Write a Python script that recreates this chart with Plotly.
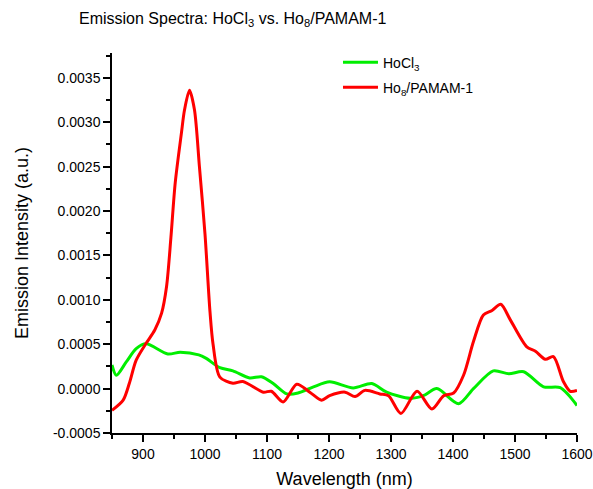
import plotly.graph_objects as go

# Wavelength (nm) and intensities (a.u.)
hocl3_wl = [850, 857, 873, 889, 905, 940, 960, 990, 1002, 1024, 1045, 1072, 1091, 1110,
            1132, 1150, 1175, 1201, 1239, 1269, 1293, 1331, 1352, 1374, 1409, 1433,
            1465, 1490, 1514, 1546, 1573, 1600]
hocl3_int = [0.000266, 0.00015, 0.0003, 0.00045, 0.000504, 0.00039, 0.00041, 0.00038,
             0.00034, 0.000235, 0.0002, 0.00012, 0.000133, 0.000057, -0.00006, -0.00005,
             0.00002, 0.000076, 0.000008, 0.000057, -0.00004, -0.00011, -0.00008, 0.0,
             -0.00017, 0.0, 0.0002, 0.000167, 0.00019, 0.00002, 0.00001, -0.00019]

ho8_wl = [850, 868, 878, 889, 905, 919, 930, 938, 945, 952, 962, 967, 975, 983, 991, 1000,
          1008, 1013, 1024, 1045, 1061, 1094, 1107, 1126, 1148, 1169, 1188, 1201, 1226,
          1242, 1258, 1282, 1296, 1316, 1342, 1366, 1385, 1401, 1417, 1433, 1449, 1463,
          1477, 1492, 1519, 1533, 1549, 1562, 1578, 1589, 1600]
ho8_int = [-0.000245, -0.00013, 0.00006, 0.00032, 0.00051, 0.00066, 0.00085, 0.00115,
           0.0017, 0.00232, 0.00288, 0.00314, 0.00336, 0.00314, 0.0025, 0.00174, 0.00087,
           0.0005, 0.00013, 0.00006, 0.00008, -0.00004, -0.00003, -0.00015, 0.00005,
           -0.00004, -0.00013, -0.00008, -0.00004, -0.00009, -0.00002, -0.00006, -0.00008,
           -0.00028, -0.00003, -0.00023, -0.00008, -0.00005, 0.00015, 0.00053, 0.00083,
           0.00088, 0.00095, 0.00078, 0.00047, 0.00042, 0.00033, 0.00036, 0.00008,
           -0.00003, -0.00002]

y_tickvals = [-0.0005, 0.0, 0.0005, 0.0010, 0.0015, 0.0020, 0.0025, 0.0030, 0.0035]
y_ticktext = ["-0.0005", "0.0000", "0.0005", "0.0010", "0.0015", "0.0020", "0.0025",
              "0.0030", "0.0035"]

FONT = "Liberation Sans, Arial, sans-serif"

fig = go.Figure()
fig.add_trace(go.Scatter(x=hocl3_wl, y=hocl3_int, mode="lines", name="HoCl<sub>3</sub>",
                         line=dict(color="#00ee00", width=3, shape="spline", smoothing=0.8),
                         legendgroup="a"))
fig.add_trace(go.Scatter(x=ho8_wl, y=ho8_int, mode="lines", name="Ho<sub>8</sub>/PAMAM-1",
                         line=dict(color="#ff0000", width=3, shape="spline", smoothing=0.8),
                         legendgroup="b"))

axis_common = dict(showline=True, linecolor="black", linewidth=1.5, ticks="outside",
                   ticklen=7, tickwidth=1.5, tickcolor="black", showgrid=False,
                   zeroline=False, mirror=False, automargin=False,
                   tickfont=dict(family=FONT, size=14, color="black"))

fig.update_xaxes(range=[850, 1600], tick0=900, dtick=100,
                 title=dict(text="Wavelength (nm)", font=dict(family=FONT, size=18, color="black"),
                            standoff=14),
                 minor=dict(ticks="outside", ticklen=4, tickwidth=1.5, tickcolor="black",
                            dtick=50, tick0=850, showgrid=False),
                 **axis_common)
fig.update_yaxes(range=[-0.0005, 0.00378], tickvals=y_tickvals, ticktext=y_ticktext,
                 title=dict(text="Emission Intensity (a.u.)",
                            font=dict(family=FONT, size=18, color="black"), standoff=20),
                 minor=dict(ticks="outside", ticklen=4, tickwidth=1.5, tickcolor="black",
                            dtick=0.00025, tick0=0, showgrid=False),
                 **axis_common)

fig.update_layout(
    width=593, height=489,
    margin=dict(l=112, r=16, t=53, b=56, autoexpand=False),
    paper_bgcolor="white", plot_bgcolor="white",
    font=dict(family=FONT, color="black"),
    title=dict(text="Emission Spectra: HoCl<sub>3</sub> vs. Ho<sub>8</sub>/PAMAM-1",
               font=dict(family=FONT, size=16, color="black"),
               x=79 / 593, xanchor="left", xref="container",
               y=1 - 18 / 489, yanchor="middle", yref="container"),
    legend=dict(x=0.486, y=1.017, xanchor="left", yanchor="top", itemwidth=35,
                font=dict(family=FONT, size=14, color="black"),
                bgcolor="rgba(0,0,0,0)", traceorder="grouped", tracegroupgap=4),
    showlegend=True,
)

fig.write_html("out.html")
